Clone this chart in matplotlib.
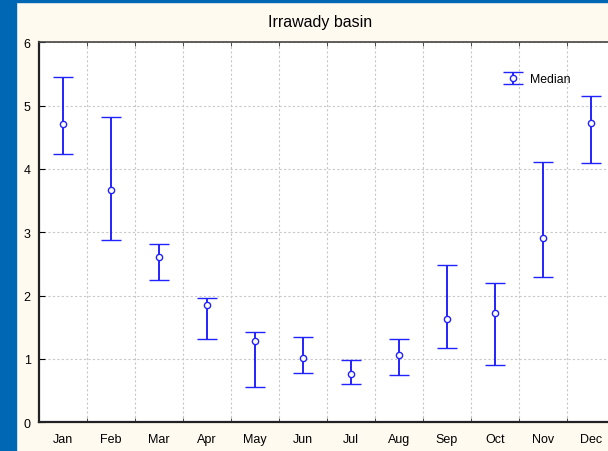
import matplotlib
matplotlib.use("Agg")
import matplotlib.pyplot as plt
from matplotlib.patches import Rectangle
import numpy as np

months = ["Jan", "Feb", "Mar", "Apr", "May", "Jun",
          "Jul", "Aug", "Sep", "Oct", "Nov", "Dec"]
median = [4.71, 3.67, 2.61, 1.86, 1.28, 1.02, 0.77, 1.06, 1.63, 1.73, 2.91, 4.73]
upper = [5.45, 4.82, 2.82, 1.96, 1.43, 1.35, 0.98, 1.32, 2.49, 2.20, 4.11, 5.16]
lower = [4.24, 2.88, 2.25, 1.32, 0.55, 0.78, 0.60, 0.75, 1.18, 0.91, 2.30, 4.10]

plt.rcParams["font.family"] = ["Liberation Sans", "DejaVu Sans"]

W, H = 608, 452
fig = plt.figure(figsize=(W / 100, H / 100), dpi=100)
fig.patch.set_facecolor("#fffaf0")

# blue frame on the left and top
fig.patches.append(Rectangle((0, 0), 16 / W, 1, transform=fig.transFigure,
                             color="#0067b5", zorder=0))
fig.patches.append(Rectangle((0, 1 - 3 / H), 1, 3 / H, transform=fig.transFigure,
                             color="#0067b5", zorder=0))

left, right, top, bottom = 39, 615, 43.3, 423.3
ax = fig.add_axes([left / W, 1 - bottom / H, (right - left) / W, (bottom - top) / H])
ax.set_facecolor("white")

x = np.arange(len(months))
med = np.array(median)
yerr = [med - np.array(lower), np.array(upper) - med]
blue = "#2222ff"
ax.errorbar(x, med, yerr=yerr, fmt="o", color=blue, ecolor=blue,
            elinewidth=1.4, capsize=7, capthick=1.4, markersize=4.5,
            markerfacecolor="white", markeredgecolor=blue,
            markeredgewidth=1.0, label="Median", zorder=3)

ax.set_xlim(-0.5, 11.5)
ax.set_ylim(0, 6)
ax.set_xticks(x)
ax.set_xticklabels(months)
ax.set_xticks(np.arange(0.5, 11.5, 1), minor=True)
ax.set_yticks(range(7))
ax.tick_params(axis="x", which="major", length=0, labelsize=9, pad=8)
ax.tick_params(axis="x", which="minor", direction="in", length=3,
               top=True, bottom=True, color="#333333")
ax.tick_params(axis="y", direction="in", length=4, labelsize=9, pad=6)

ax.grid(True, which="minor", axis="x", color="#c8c8c8", linestyle=(0, (2, 2)),
        linewidth=0.8)
ax.grid(True, which="major", axis="y", color="#c8c8c8", linestyle=(0, (2, 2)),
        linewidth=0.8)

for s in ("left", "bottom"):
    ax.spines[s].set_linewidth(1.6)
    ax.spines[s].set_color("#222222")
ax.spines["top"].set_linewidth(1.2)
ax.spines["top"].set_color("#444444")

fig.text(320 / W, 1 - 22 / H, "Irrawady basin", ha="center", va="center",
         fontsize=11.5)

ax.legend(loc="upper left", bbox_to_anchor=(491 / W, 1 - 63 / H),
          bbox_transform=fig.transFigure, frameon=False, fontsize=8.8,
          handlelength=1.8, handletextpad=0.5)

fig.savefig("out.png", dpi=100)
